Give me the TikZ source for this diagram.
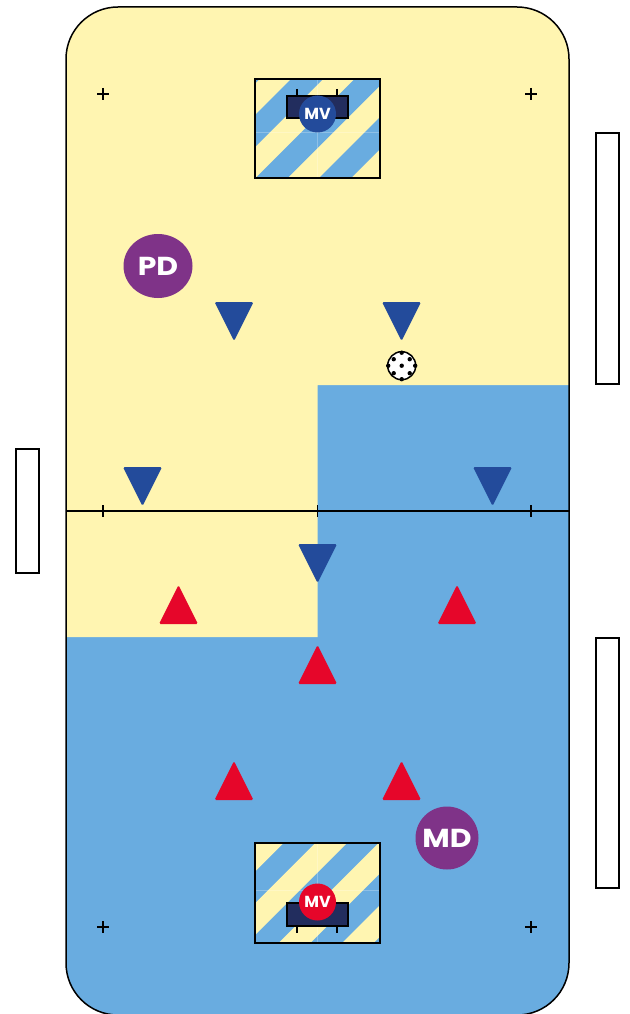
\documentclass[tikz,border=0pt]{standalone}
\usepackage{fontspec}
\setmainfont{Poppins}
\newfontfamily\letraancha{Poppins}[FakeStretch=1.15]
\usetikzlibrary{shapes.geometric}
\definecolor{amarillo}{HTML}{FFF5B1}
\definecolor{celeste}{HTML}{69ACE0}
\definecolor{azuloscuro}{HTML}{234B9B}
\definecolor{rojo}{HTML}{E6062A}
\definecolor{morado}{HTML}{7F3388}
\definecolor{marino}{HTML}{222D5E}

\begin{document}
\begin{tikzpicture}[
			x=1pt, y=-1pt,
			linea/.style = {draw=black, line width=1.5pt},
			tabla/.style = {draw=black, line width=1.5pt, fill=white},
			puesto/.style = {
				circle,
				text=white,
				inner sep=0pt,
				font=\bfseries\fontsize{16}{16}\selectfont,
				minimum size=37pt
			},
			jefe/.style = {
				ellipse,
				fill=morado,
				text=white,
				inner sep=-6pt,
				font=\letraancha\bfseries\fontsize{26}{26}\selectfont
			},
			abajo/.style = {fill=azuloscuro, rounded corners=1.5pt},
			arriba/.style = {fill=rojo, rounded corners=1.5pt},
			costura/.style = {white, opacity=0.25, line width=0.6pt}
			]
			
			\useasboundingbox (0,0) rectangle (629,1014);
			
			% campo
			\begin{scope}
				\clip[rounded corners=52pt] (66,7) rectangle (569,1015);
				\fill[celeste] (60,0) rectangle (575,1020);
				\fill[amarillo] (60,0) -- (575,0) -- (575,385) -- (317.5,385) -- (317.5,637) -- (60,637) -- cycle;
			\end{scope}
			\draw[linea, rounded corners=52pt] (66,7) rectangle (569,1015);
			\draw[linea] (66,511) -- (569,511);
			
			\foreach \x in {103,317.5,531}
				\draw[linea] (\x,505) -- (\x,517);
			
			\foreach \x/\y in {103/94, 531/94, 103/927, 531/927} {
				\draw[linea] (\x-6,\y) -- (\x+6,\y);
				\draw[linea] (\x,\y-6) -- (\x,\y+6);
			}
			
			% area de arriba
			\begin{scope}
				\clip (255,79) rectangle (380,178);
				\fill[amarillo] (255,79) rectangle (380,178);
				\foreach \s in {306.5,370,433.5,497}
					\fill[celeste] (\s-79,79) -- (\s-79+32,79) -- (\s-178+32,178) -- (\s-178,178) -- cycle;
				\draw[costura] (317.5,79) -- (317.5,178);
				\draw[costura] (255,132) -- (380,132);
			\end{scope}
			\draw[linea] (255,79) rectangle (380,178);
			\draw[linea] (297,89) -- (297,96);
			\draw[linea] (337,89) -- (337,96);
			\draw[linea, fill=marino] (287,96) rectangle (348,118);
			
			% area de abajo
			\begin{scope}
				\clip (255,843) rectangle (380,943);
				\fill[celeste] (255,843) rectangle (380,943);
				\foreach \s in {1095,1158.3,1221.7,1285}
					\fill[amarillo] (\s-843,843) -- (\s-843+31.7,843) -- (\s-943+31.7,943) -- (\s-943,943) -- cycle;
				\draw[costura] (317.5,843) -- (317.5,943);
				\draw[costura] (255,890) -- (380,890);
			\end{scope}
			\draw[linea] (255,843) rectangle (380,943);
			\draw[linea] (297,926) -- (297,933);
			\draw[linea] (337,926) -- (337,933);
			\draw[linea, fill=marino] (287,903) rectangle (348,926);
			
			% tablas
			\draw[tabla] (16,449) rectangle (39,573);
			\draw[tabla] (596,133) rectangle (619,384);
			\draw[tabla] (596,638) rectangle (619,888);
			
			% jugadores
			\foreach \x/\y in {234/302, 401.5/302, 142.5/467, 492.5/467, 317.5/544}
				\fill[abajo] (\x-19.5,\y) -- (\x+19.5,\y) -- (\x,\y+39) -- cycle;
			\foreach \x/\y in {178.5/624, 457/624, 317.5/684, 234/800, 401.5/800}
				\fill[arriba] (\x-19.5,\y) -- (\x+19.5,\y) -- (\x,\y-39) -- cycle;
			
			\node[puesto, fill=azuloscuro] (mvazul) at (317.5,114) {MV};
			\node[puesto, fill=rojo] (mvrojo) at (317.5,902) {MV};
			\node[jefe, minimum width=69pt, minimum height=64pt] (pd) at (158,266) {PD};
			\node[jefe, minimum width=63pt, minimum height=63pt] (md) at (447,838) {MD};
			
			% pelota
			\draw[black, fill=white, line width=1.5pt] (401.7,365.7) circle (14pt);
			\foreach \dx/\dy in {0/0, -8/-6.5, 8/-6.5, -8/7.5, 8/7.5, 0/-13, 0/13.5, -13.5/0, 13.5/0}
				\fill[black] (401.7+\dx,365.7+\dy) circle (2.2pt);
			
		\end{tikzpicture}
\end{document}
